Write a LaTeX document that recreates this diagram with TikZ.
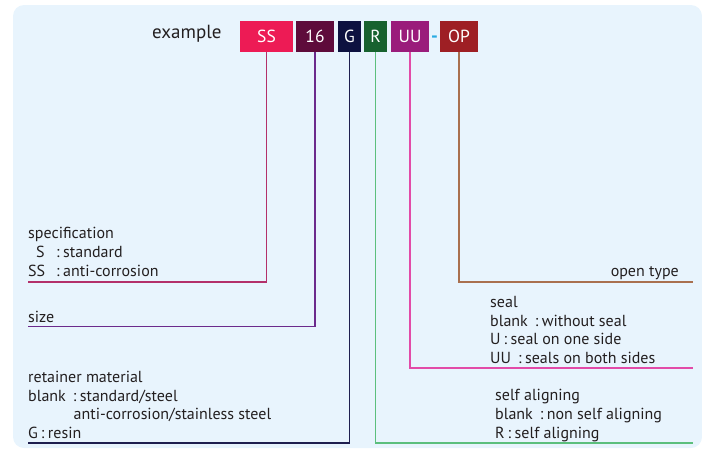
\documentclass[tikz,border=0pt]{standalone}
\usepackage{fontspec}
\setmainfont{PT Sans}
\definecolor{bgblue}{HTML}{E8F4FD}
\definecolor{txt}{HTML}{231F20}
\definecolor{cSS}{HTML}{ED1B55}
\definecolor{c16}{HTML}{5E0B3B}
\definecolor{cG}{HTML}{0D1140}
\definecolor{cR}{HTML}{17622F}
\definecolor{cUU}{HTML}{9A1C7B}
\definecolor{cOP}{HTML}{9E1F24}
\definecolor{cDash}{HTML}{29ABE2}
\definecolor{lSS}{HTML}{B3306A}
\definecolor{l16}{HTML}{6B2A8C}
\definecolor{lG}{HTML}{1F1F4F}
\definecolor{lR}{HTML}{5CBF7D}
\definecolor{lUU}{HTML}{E24BA8}
\definecolor{lOP}{HTML}{A9704F}
\newcommand{\cl}{\hspace{3pt}:\hspace{3.5pt}}
\newcommand{\wcl}{\hspace{7pt}:\hspace{3.5pt}}
\begin{document}
\begin{tikzpicture}[x=1pt,y=-1pt,
  codebox/.style={inner sep=0, minimum height=31, text=white, font=\fontsize{17.5}{19}\selectfont},
  lbl/.style={anchor=base west, inner sep=0, text=txt, font=\fontsize{16}{18}\selectfont},
  conn/.style={line width=1.2pt}]
\useasboundingbox (0,0) rectangle (702,453);
\fill[bgblue, rounded corners=11pt] (13,5) rectangle (702,448);
% title
\node[anchor=base west, inner sep=0, text=txt, font=\fontsize{19}{21}\selectfont] (ex) at (152,38) {example};
% code boxes
\node[codebox, fill=cSS, minimum width=53] (ss) at (266.5,36.5) {SS};
\node[codebox, fill=c16, minimum width=38] (n16) at (315,36.5) {16};
\node[codebox, fill=cG, minimum width=23] (g) at (349.5,36.5) {G};
\node[codebox, fill=cR, minimum width=23] (r) at (375.5,36.5) {R};
\node[codebox, fill=cUU, minimum width=38] (uu) at (410,36.5) {UU};
\node[anchor=base, inner sep=0, text=cDash, font=\fontsize{19}{21}\bfseries] (dash) at (434.5,42) {-};
\node[codebox, fill=cOP, minimum width=38] (op) at (459,36.5) {OP};
% end coordinates
\coordinate (eSS) at (28,282);
\coordinate (e16) at (28,326.5);
\coordinate (eG) at (28,443);
\coordinate (eR) at (693,443);
\coordinate (eUU) at (693,368);
\coordinate (eOP) at (693,282);
% connectors
\draw[conn, lSS] (ss.south) |- (eSS);
\draw[conn, l16] (n16.south) |- (e16);
\draw[conn, lG] (g.south) |- (eG);
\draw[conn, lR] (r.south) |- (eR);
\draw[conn, lUU] (uu.south) |- (eUU);
\draw[conn, lOP] (op.south) |- (eOP);
% left labels
\node[lbl] (spec) at (28,238.5) {specification};
\node[lbl] (specS) at (36,257) {S};
\node[lbl] (specSt) at (56,257) {:\hspace{3.5pt}standard};
\node[lbl] (specSS) at (28,276) {SS};
\node[lbl] (specAc) at (56,276) {:\hspace{3.5pt}anti-corrosion};
\node[lbl] (size) at (28,322) {size};
\node[lbl] (ret) at (28,382.5) {retainer material};
\node[lbl] (retB) at (28,401) {blank\wcl standard/steel};
\node[lbl] (retA) at (73.5,419) {anti-corrosion/stainless steel};
\node[lbl] (retG) at (28,438.5) {G\cl resin};
% right labels
\node[lbl, anchor=base east] (open) at (679,276) {open type};
\node[lbl] (seal) at (490,307) {seal};
\node[lbl] (sealB) at (490,326) {blank\wcl without seal};
\node[lbl] (sealU) at (490,344.5) {U\cl seal on one side};
\node[lbl] (sealUU) at (490,363) {UU\wcl seals on both sides};
\node[lbl] (sa) at (495,400) {self aligning};
\node[lbl] (saB) at (495,419.5) {blank\wcl non self aligning};
\node[lbl] (saR) at (495,438.5) {R\cl self aligning};
\end{tikzpicture}
\end{document}
